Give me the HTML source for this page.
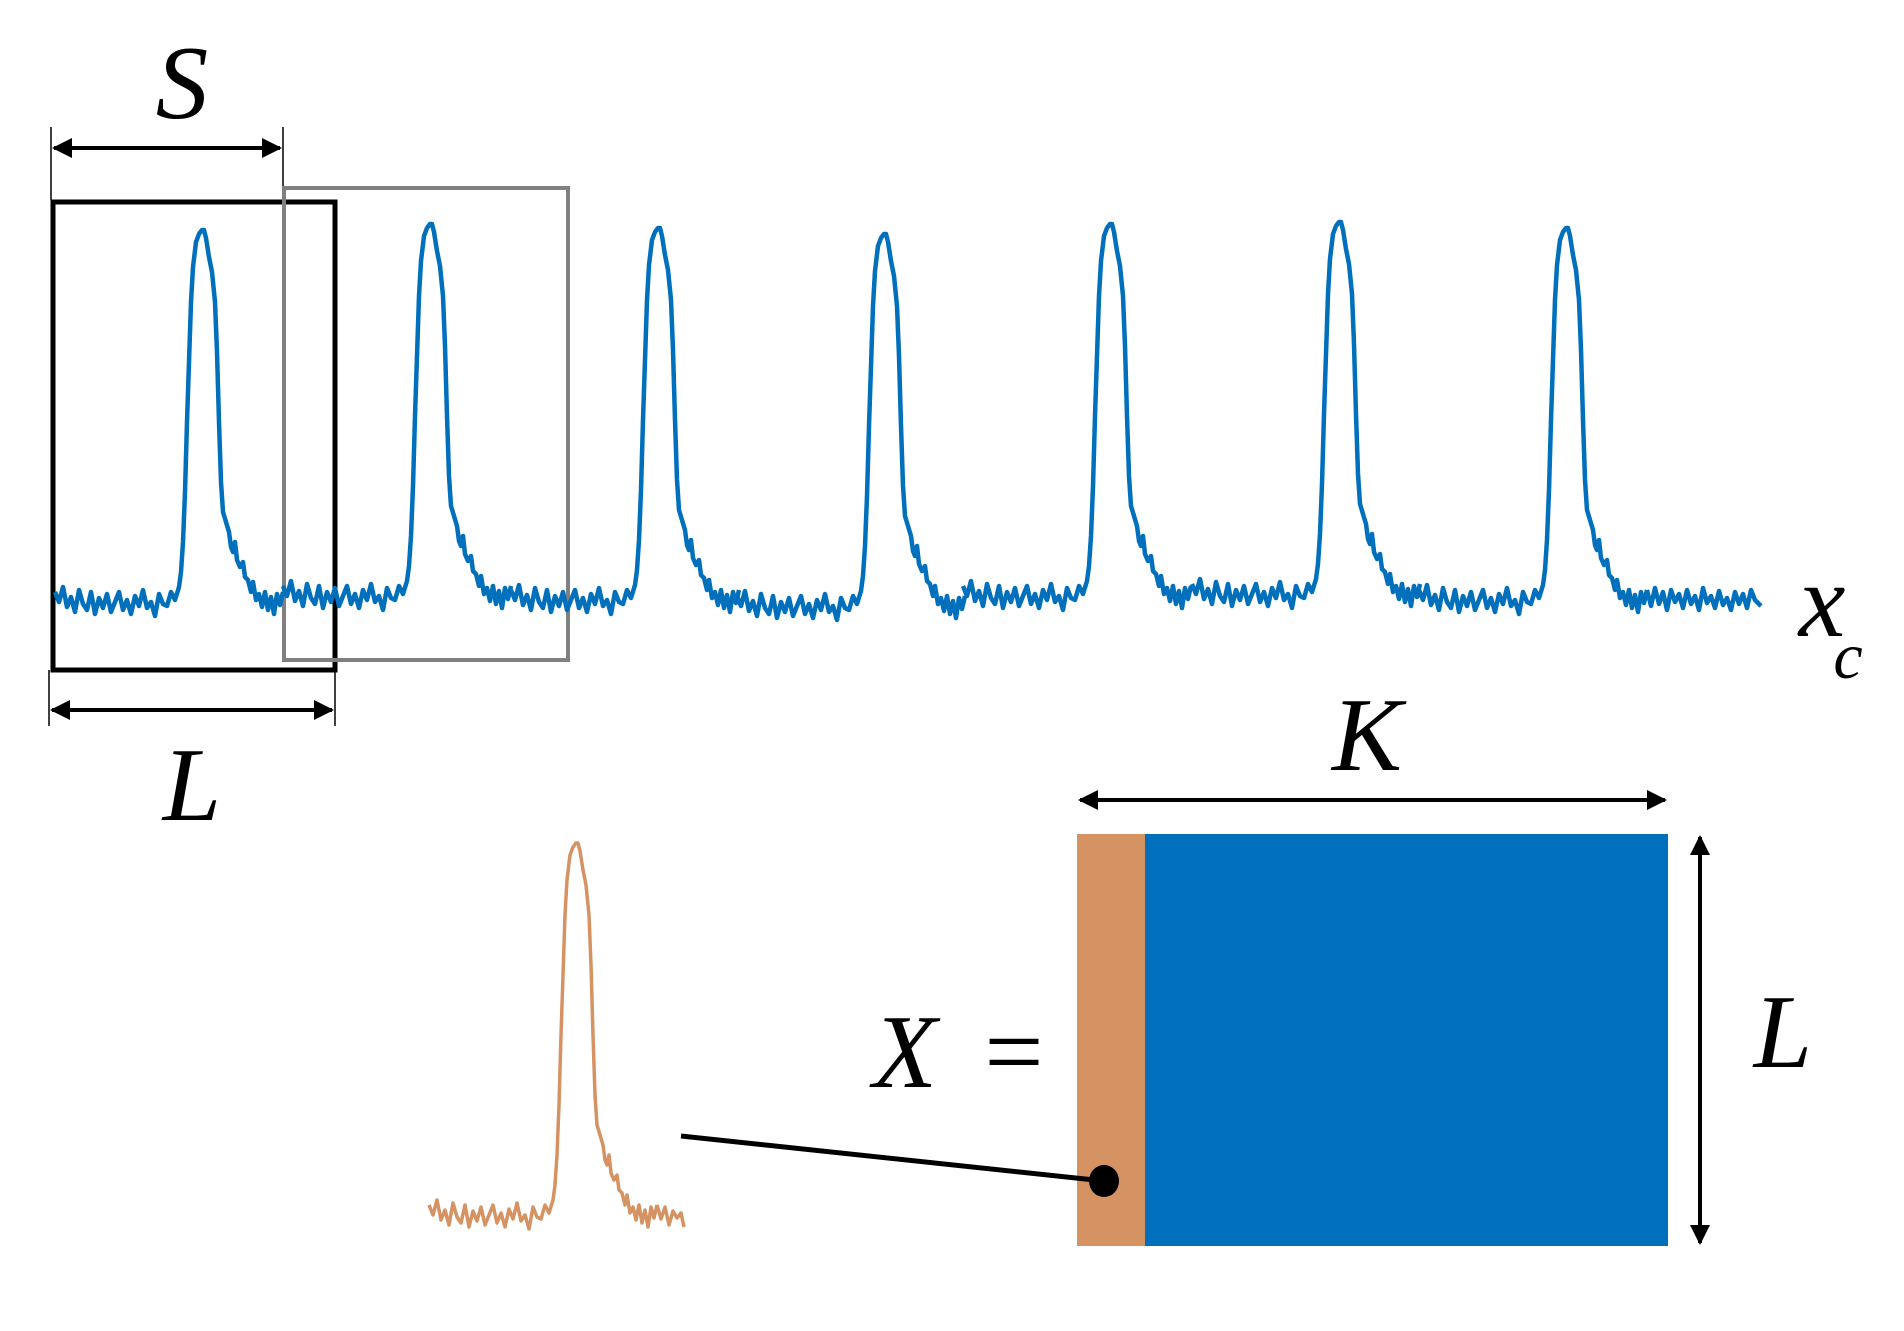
<!DOCTYPE html>
<html><head><meta charset="utf-8"><style>
html,body{margin:0;padding:0;background:#fff;}
svg{display:block;}
text{font-family:"Liberation Serif",serif;font-style:italic;fill:#000;}
</style></head><body>
<svg width="1904" height="1331" viewBox="0 0 1904 1331" xmlns="http://www.w3.org/2000/svg">
<defs>
<marker id="ah" viewBox="0 0 10 10" refX="9" refY="5" markerWidth="5" markerHeight="5" orient="auto-start-reverse"><path d="M0,0 L10,5 L0,10 z" fill="#000"/></marker>
<path id="pk" fill="none" stroke-linejoin="round" d="M-148,590 L-144,600 L-140,585 L-136,605 L-132,595 L-128,610 L-124,588 L-120,602 L-116,608 L-112,590 L-108,612 L-104,596 L-100,606 L-96,592 L-92,610 L-88,600 L-84,590 L-80,608 L-76,598 L-72,612 L-68,594 L-64,604 L-60,588 L-56,606 L-52,600 L-48,614 L-44,592 L-40,602 L-36,604 L-32,590 L-28,598 L-24,585 L-22,570 L-20,540 L-18,490 L-16,420 L-14,360 L-12,300 L-10,265 L-7,240 L-4,232 L-1,228 L1,228 L3,236 L6,255 L9,270 L12,300 L14,350 L16,420 L18,480 L20,510 L23,520 L26,530 L28,545 L30,550 L32,540 L34,558 L37,565 L40,560 L42,575 L45,578 L48,590 L50,580 L53,598 L56,592 L59,605 L62,590 L65,608 L68,595 L71,612 L74,592 L77,603 L80,590"/>
</defs>
<!-- S dimension -->
<line x1="51" y1="127" x2="51" y2="200" stroke="#000" stroke-width="1.5"/>
<line x1="283" y1="127" x2="283" y2="190" stroke="#000" stroke-width="1.5"/>
<line x1="54" y1="148" x2="280" y2="148" stroke="#000" stroke-width="4" marker-start="url(#ah)" marker-end="url(#ah)"/>
<text x="182" y="118" font-size="105" text-anchor="middle">S</text>
<!-- boxes -->
<rect x="53" y="202" width="282" height="468" fill="none" stroke="#000" stroke-width="5"/>
<rect x="284" y="188" width="284" height="472" fill="none" stroke="#808080" stroke-width="4"/>
<g stroke="#0070bc" stroke-width="4.5">
<use href="#pk" transform="translate(203,2)"/>
<use href="#pk" transform="translate(431,-4)"/>
<use href="#pk" transform="translate(659,0)"/>
<use href="#pk" transform="translate(885,6)"/>
<use href="#pk" transform="translate(1111,-4)"/>
<use href="#pk" transform="translate(1340,-6)"/>
<use href="#pk" transform="translate(1567,0)"/>
<path fill="none" stroke-linejoin="round" d="M1647,590 L1651,606 L1655,588 L1659,604 L1663,592 L1667,610 L1671,590 L1675,602 L1679,594 L1683,608 L1687,590 L1691,604 L1695,596 L1699,610 L1703,588 L1707,603 L1711,596 L1715,608 L1719,591 L1723,605 L1727,598 L1731,610 L1735,592 L1739,604 L1743,594 L1747,608 L1751,590 L1755,600 L1761,606"/>
</g>
<!-- L dimension -->
<line x1="49" y1="670" x2="49" y2="726" stroke="#000" stroke-width="1.5"/>
<line x1="335" y1="670" x2="335" y2="726" stroke="#000" stroke-width="1.5"/>
<line x1="52" y1="710" x2="332" y2="710" stroke="#000" stroke-width="4" marker-start="url(#ah)" marker-end="url(#ah)"/>
<text x="192" y="820" font-size="105" text-anchor="middle">L</text>
<text x="1822" y="636" font-size="105" text-anchor="middle">x</text>
<text x="1848" y="678" font-size="66" text-anchor="middle">c</text>
<!-- K -->
<text x="1367" y="770" font-size="105" text-anchor="middle">K</text>
<line x1="1080" y1="800" x2="1665" y2="800" stroke="#000" stroke-width="4" marker-start="url(#ah)" marker-end="url(#ah)"/>
<rect x="1077" y="834" width="68" height="412" fill="#d59263"/>
<rect x="1145" y="834" width="523" height="412" fill="#0070bc"/>
<line x1="1700" y1="837" x2="1700" y2="1243" stroke="#000" stroke-width="4" marker-start="url(#ah)" marker-end="url(#ah)"/>
<text x="1783" y="1067" font-size="105" text-anchor="middle">L</text>
<text x="905" y="1087" font-size="105" text-anchor="middle">X</text>
<text x="1014" y="1087" font-size="105" text-anchor="middle" style="font-style:normal">=</text>
<line x1="681" y1="1136" x2="1104" y2="1181" stroke="#000" stroke-width="5"/>
<ellipse cx="1104" cy="1181" rx="15" ry="16" fill="#000"/>
<g stroke="#d59263" stroke-width="3.5" transform="translate(577,615)">
<use href="#pk"/>
<path fill="none" stroke-linejoin="round" d="M80,590 L84,604 L88,592 L92,610 L96,596 L100,603 L104,598 L107,612"/>
</g>
</svg>
</body></html>
